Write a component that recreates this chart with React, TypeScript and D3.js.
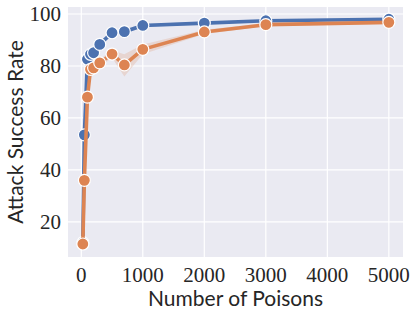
import * as d3 from "d3";

const poisons = [25, 50, 100, 150, 200, 300, 500, 700, 1000, 2000, 3000, 5000];
const blueMean = [12, 53.5, 82.6, 84.5, 85.1, 88.3, 92.8, 93.2, 95.6, 96.5, 97.4, 98.0];
const blueLo = [11, 52, 81.5, 83.5, 84.2, 87.3, 92.0, 92.3, 95.0, 96.0, 97.0, 97.6];
const blueHi = [13, 55, 83.7, 85.5, 86.0, 89.3, 93.6, 94.1, 96.2, 97.0, 97.8, 98.4];
const orangeMean = [11.5, 36, 68, 78.7, 79.3, 81.2, 84.6, 80.4, 86.4, 93.1, 95.9, 96.8];
const orangeLo = [10.5, 34, 66, 76.5, 77.3, 79.8, 83.2, 76.0, 84.5, 92.3, 95.3, 96.3];
const orangeHi = [12.5, 38, 70, 80.8, 81.2, 82.6, 86.0, 84.5, 88.3, 93.9, 96.5, 97.3];
const xTicks = [0, 1000, 2000, 3000, 4000, 5000];
const yTicks = [20, 40, 60, 80, 100];

const W = 415;
const H = 315;
const plot = { left: 68, right: 403, top: 7, bottom: 257 };

export default function App() {
  const x = d3.scaleLinear().domain([-216, 5230]).range([plot.left, plot.right]);
  const y = d3.scaleLinear().domain([6.5, 102.7]).range([plot.bottom, plot.top]);

  const series = [
    { color: "#4c72b0", mean: blueMean, lo: blueLo, hi: blueHi },
    { color: "#dd8452", mean: orangeMean, lo: orangeLo, hi: orangeHi },
  ];

  const line = d3
    .line<number>()
    .x((_, i) => x(poisons[i]))
    .y((d) => y(d));

  return (
    <svg
      width={W}
      height={H}
      style={{ position: "absolute", left: 0, top: 0 }}
    >
      <rect x={0} y={0} width={W} height={H} fill="white" />
      <rect
        x={plot.left}
        y={plot.top}
        width={plot.right - plot.left}
        height={plot.bottom - plot.top}
        fill="#eaeaf2"
      />
      {xTicks.map((t) => (
        <line
          key={"gx" + t}
          x1={x(t)}
          x2={x(t)}
          y1={plot.top}
          y2={plot.bottom}
          stroke="white"
          strokeWidth={1.2}
        />
      ))}
      {yTicks.map((t) => (
        <line
          key={"gy" + t}
          x1={plot.left}
          x2={plot.right}
          y1={y(t)}
          y2={y(t)}
          stroke="white"
          strokeWidth={1.2}
        />
      ))}
      {series.map((s, k) => {
        const area = d3
          .area<number>()
          .x((_, i) => x(poisons[i]))
          .y0((_, i) => y(s.lo[i]))
          .y1((_, i) => y(s.hi[i]));
        return (
          <path key={"a" + k} d={area(s.mean) ?? ""} fill={s.color} fillOpacity={0.2} />
        );
      })}
      {series.map((s, k) => (
        <g key={"s" + k}>
          <path
            d={line(s.mean) ?? ""}
            fill="none"
            stroke={s.color}
            strokeWidth={3.6}
            strokeLinejoin="round"
          />
          {s.mean.map((v, i) => (
            <circle
              key={i}
              cx={x(poisons[i])}
              cy={y(v)}
              r={6}
              fill={s.color}
              stroke="white"
              strokeWidth={1.2}
            />
          ))}
        </g>
      ))}
      <g fontFamily="'Liberation Serif', serif" fontSize={21} fill="#262626">
        {xTicks.map((t) => (
          <text key={"tx" + t} x={x(t)} y={plot.bottom + 25} textAnchor="middle">
            {t}
          </text>
        ))}
        {yTicks.map((t) => (
          <text
            key={"ty" + t}
            x={plot.left - 7}
            y={y(t)}
            dy="0.35em"
            textAnchor="end"
          >
            {t}
          </text>
        ))}
      </g>
      <text
        x={(plot.left + plot.right) / 2}
        y={plot.bottom + 49}
        textAnchor="middle"
        fontFamily="Lato, sans-serif"
        fontSize={21}
        fill="#262626"
      >
        Number of Poisons
      </text>
      <text
        transform={`translate(23, ${(plot.top + plot.bottom) / 2}) rotate(-90)`}
        textAnchor="middle"
        fontFamily="Lato, sans-serif"
        fontSize={21}
        fill="#262626"
      >
        Attack Success Rate
      </text>
    </svg>
  );
}
